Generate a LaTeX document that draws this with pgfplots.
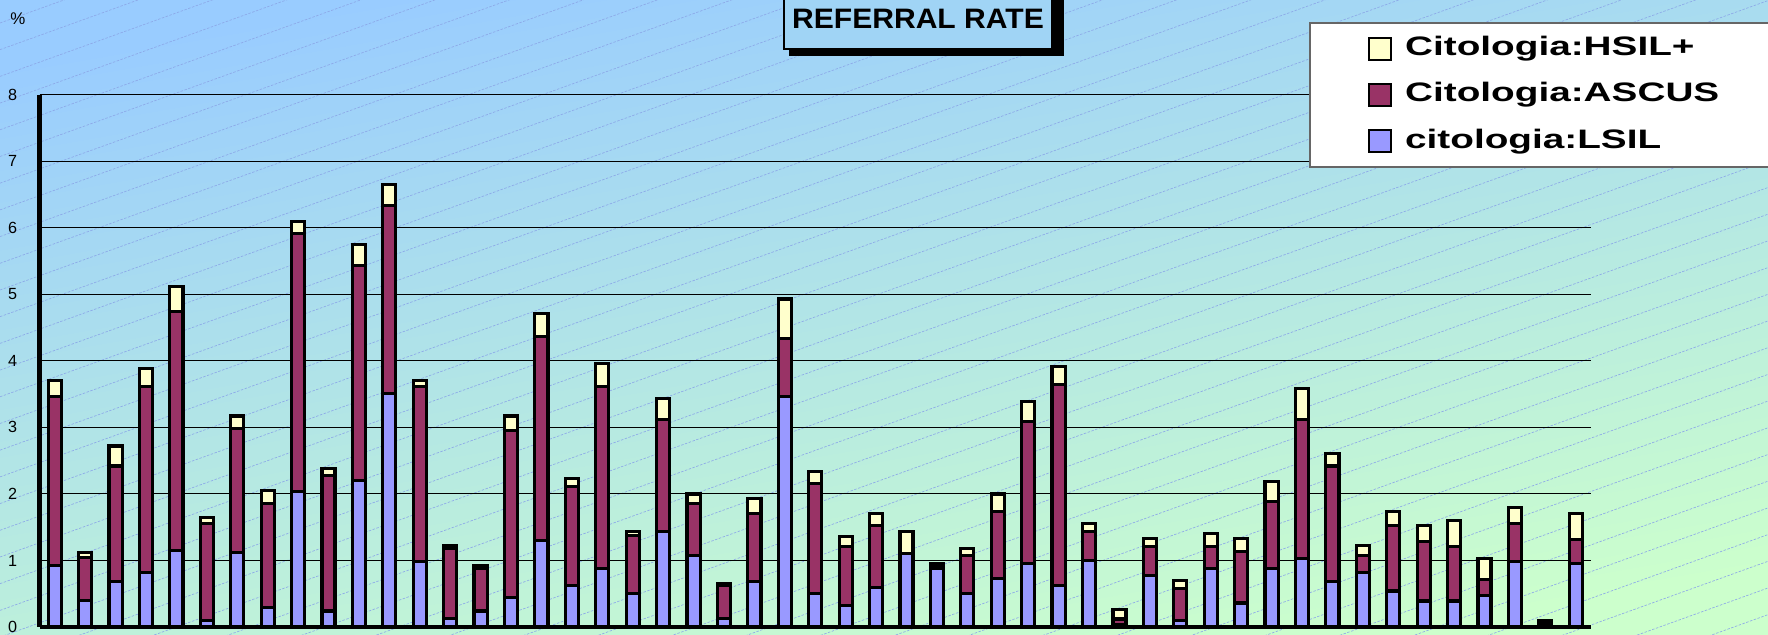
\documentclass[border=0pt]{standalone}
\usepackage{fontspec}
\setmainfont{Liberation Sans}
\newfontfamily\legfont[FakeStretch=1.45]{Liberation Sans}
\newfontfamily\ttlfont[FakeStretch=1.07]{Liberation Sans}
\usepackage{pgfplots}
\usepackage{pgfplotstable}
\pgfplotsset{compat=1.18}

\definecolor{bgtop}{RGB}{153,204,255}
\definecolor{bgbot}{RGB}{204,255,204}
\definecolor{hatch}{RGB}{140,168,232}
\definecolor{ttlbg}{RGB}{160,212,245}
\definecolor{lsil}{RGB}{153,153,255}
\definecolor{ascus}{RGB}{153,51,102}
\definecolor{hsil}{RGB}{255,255,204}

% referral rate (%) per centre, split by cytology result
\pgfplotstableread{
n  lsil ascus hsil
1  0.93 2.54 0.23
2  0.40 0.64 0.08
3  0.69 1.73 0.30
4  0.82 2.80 0.26
5  1.15 3.59 0.38
6  0.10 1.46 0.08
7  1.12 1.86 0.19
8  0.29 1.57 0.19
9  2.04 3.87 0.18
10 0.24 2.04 0.10
11 2.20 3.23 0.32
12 3.51 2.83 0.31
13 0.99 2.63 0.08
14 0.13 1.05 0.04
15 0.24 0.64 0.04
16 0.44 2.51 0.22
17 1.30 3.07 0.34
18 0.62 1.49 0.12
19 0.88 2.74 0.34
20 0.50 0.87 0.07
21 1.43 1.69 0.31
22 1.07 0.79 0.14
23 0.13 0.49 0.03
24 0.69 1.02 0.22
25 3.47 0.86 0.60
26 0.50 1.66 0.18
27 0.32 0.89 0.15
28 0.59 0.93 0.18
29 1.11 0.00 0.33
30 0.88 0.03 0.05
31 0.50 0.57 0.11
32 0.73 1.01 0.26
33 0.96 2.13 0.30
34 0.62 3.03 0.27
35 1.00 0.43 0.12
36 0.04 0.08 0.14
37 0.77 0.44 0.12
38 0.10 0.48 0.12
39 0.88 0.33 0.20
40 0.36 0.78 0.19
41 0.88 1.01 0.30
42 1.03 2.09 0.47
43 0.68 1.74 0.19
44 0.82 0.25 0.15
45 0.54 0.98 0.22
46 0.39 0.90 0.23
47 0.39 0.82 0.39
48 0.47 0.25 0.31
49 0.99 0.57 0.23
50 0.00 0.06 0.04
51 0.96 0.36 0.39
}\rates

\begin{document}
\begin{tikzpicture}
\useasboundingbox (0,0) rectangle (17.68cm,6.35cm);
\clip (0,0) rectangle (17.68cm,6.35cm);
\shade[top color=bgtop, bottom color=bgbot, shading angle=10] (0,0) rectangle (17.68cm,6.35cm);
\foreach \k in {0,...,47}
  \draw[hatch, line width=0.18pt, dash pattern=on 0.25mm off 0.15mm]
    (0,6.12cm-\k*0.267cm) -- (17.68cm,6.12cm-\k*0.267cm+6.365cm);

% title box with drop shadow
\fill[black] (7.89cm,5.79cm) rectangle (10.64cm,6.6cm);
\filldraw[fill=ttlbg, draw=black, line width=0.35pt] (7.84cm,5.86cm) rectangle (10.52cm,6.6cm);
\node[font=\ttlfont\bfseries\fontsize{8}{9}\selectfont] at (9.18cm,6.165cm) {REFERRAL RATE};

\node[font=\fontsize{4.8}{5}\selectfont] at (0.18cm,6.16cm) {\%};

\begin{axis}[
  at={(0.395cm,0.08cm)}, anchor=south west,
  scale only axis, width=15.515cm, height=5.323cm,
  xmin=0.5, xmax=51.5, ymin=0, ymax=8,
  xtick=\empty, ytick={0,1,...,8},
  major tick length=0pt,
  axis x line*=bottom, axis y line*=left,
  axis line style={-, line width=1.2pt},
  ymajorgrids, grid style={black, line width=0.3pt},
  /pgf/number format/assume math mode=true,
  yticklabel style={font=\fontsize{4.6}{5}\selectfont, xshift=-1mm},
  ybar stacked, bar width=0.43,
  every axis plot/.append style={draw=black, line width=0.9pt,
    legend image code/.code={\path (0,0); \draw[##1, line width=0.6pt] (0cm,-1.1mm) rectangle (2.2mm,1.1mm);}},
  reverse legend,
  legend style={at={(0.8182,1.1366)}, anchor=north west,
    draw=black!60, line width=0.5pt, fill=white,
    font=\legfont\bfseries\fontsize{7.6}{8}\selectfont,
    inner xsep=5.8mm, inner ysep=0.5mm, row sep=0.5mm, column sep=0.45mm,
    nodes={text height=1.95mm, text depth=0.55mm, inner sep=0.82mm}},
  legend cell align=left,
]
\addplot[fill=lsil] table[x=n, y=lsil] {\rates};
\addlegendentry{\makebox[4cm][l]{citologia:LSIL}}
\addplot[fill=ascus] table[x=n, y=ascus] {\rates};
\addlegendentry{\makebox[4cm][l]{Citologia:ASCUS}}
\addplot[fill=hsil] table[x=n, y=hsil] {\rates};
\addlegendentry{\makebox[4cm][l]{Citologia:HSIL+}}
\end{axis}
\end{tikzpicture}
\end{document}
